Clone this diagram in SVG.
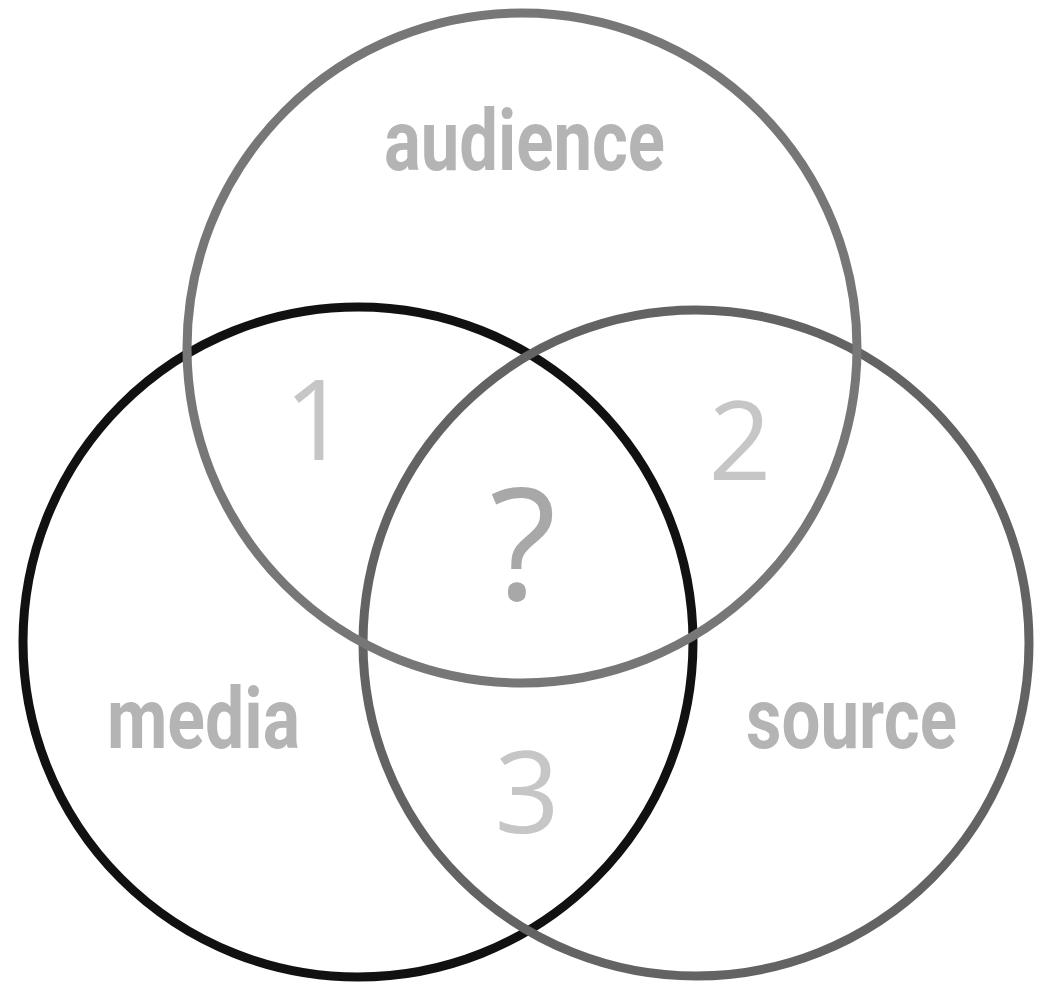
<svg xmlns="http://www.w3.org/2000/svg" width="1041" height="986" viewBox="0 0 1041 986">
<style>
.c{fill:none;stroke-width:9}
.lbl{font-family:Roboto,"Liberation Sans",sans-serif;font-weight:700;font-size:86px;fill:#b4b4b4}
.num{font-family:"Open Sans","Noto Sans",sans-serif;font-weight:400;fill:#c6c6c6;text-anchor:middle}
</style>
<rect width="1041" height="986" fill="#fff"/>
<g id="media">
<circle class="c" cx="358" cy="642" r="335" stroke="#111"/>
<text class="lbl" x="107" y="748" textLength="193" lengthAdjust="spacingAndGlyphs">media</text>
</g>
<g id="source">
<circle class="c" cx="696" cy="643" r="333" stroke="#636363"/>
<text class="lbl" x="746" y="748" textLength="211" lengthAdjust="spacingAndGlyphs">source</text>
</g>
<g id="audience">
<circle class="c" cx="522" cy="348" r="335" stroke="#777"/>
<text class="lbl" x="384" y="170" textLength="281" lengthAdjust="spacingAndGlyphs">audience</text>
</g>
<g id="regions">
<text class="num" x="316" y="460" font-size="112">1</text>
<text class="num" x="740" y="480" font-size="110">2</text>
<text class="num" x="523" y="600" font-size="155" fill="#a8a8a8" style="fill:#a8a8a8">?</text>
<text class="num" x="527" y="833" font-size="114">3</text>
</g>
</svg>
